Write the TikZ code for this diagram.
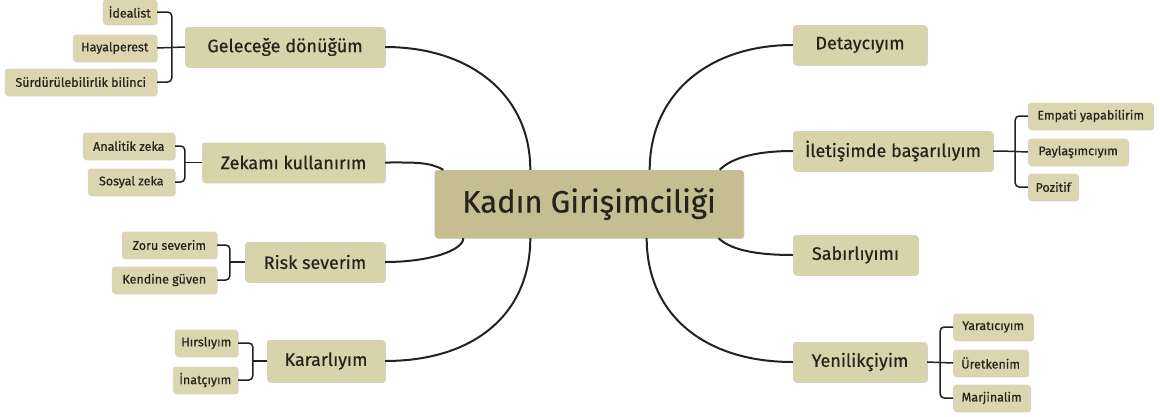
\documentclass[tikz,border=0pt]{standalone}
\usepackage{fontspec}
\setmainfont{Fira Sans}[FakeBold=0.5]
\usetikzlibrary{shadows}
\definecolor{mainfill}{HTML}{D8D3AA}
\definecolor{childfill}{HTML}{DBD6B0}
\definecolor{centerfill}{HTML}{C6BE92}
\definecolor{txt}{HTML}{26231A}
\definecolor{ln}{HTML}{222222}
\tikzset{
  box/.style={fill=#1, rounded corners=3pt, text=txt, inner sep=0pt,
    drop shadow={shadow xshift=0.8pt, shadow yshift=-0.8pt, opacity=0.18, fill=black}},
  centerbox/.style={box=centerfill, font=\fontsize{31}{35}\selectfont, minimum width=309pt, minimum height=68pt},
  mainbox/.style={box=mainfill, font=\fontsize{18}{21}\selectfont, minimum height=40pt},
  childbox/.style={box=childfill, font=\fontsize{12.5}{15}\selectfont, minimum height=27pt},
  conn/.style={draw=ln, line width=2pt},
  brk/.style={draw=ln, line width=1.5pt, rounded corners=4pt},
}
\begin{document}
\begin{tikzpicture}[x=1pt,y=-1pt]
\useasboundingbox (0,0) rectangle (1160,416);
% central
\node[centerbox] (c) at (589,204) {Kadın Girişimciliği};
% main left
\node[mainbox, minimum width=200pt] (gel) at (285,47) {Geleceğe dönüğüm};
\node[mainbox, minimum width=183pt] (zek) at (293.5,162.5) {Zekamı kullanırım};
\node[mainbox, minimum width=140pt] (risk) at (315,262) {Risk severim};
\node[mainbox, minimum width=118pt, minimum height=42pt] (kar) at (326,361) {Kararlıyım};
% main right
\node[mainbox, minimum width=134pt] (det) at (860,45) {Detaycıyım};
\node[mainbox, minimum width=200pt] (ilet) at (893,151) {İletişimde başarılıyım};
\node[mainbox, minimum width=125pt] (sab) at (855.5,255) {Sabırlıyımı};
\node[mainbox, minimum width=134pt] (yen) at (860,362) {Yenilikçiyim};
% children left
\node[childbox, anchor=east, minimum width=54pt, minimum height=25pt] (ide) at (157,12) {İdealist};
\node[childbox, anchor=east, minimum width=84pt] (hay) at (157,48) {Hayalperest};
\node[childbox, anchor=east, minimum width=152pt] (sur) at (157,82) {Sürdürülebilirlik bilinci};
\node[childbox, anchor=east, minimum width=92pt] (ana) at (175,146) {Analitik zeka};
\node[childbox, anchor=east, minimum width=87pt] (sos) at (175,182) {Sosyal zeka};
\node[childbox, anchor=east, minimum width=95pt] (zor) at (217,245) {Zoru severim};
\node[childbox, anchor=east, minimum width=105pt] (ken) at (217,280) {Kendine güven};
\node[childbox, anchor=east, minimum width=63pt] (hir) at (238,343) {Hırslıyım};
\node[childbox, anchor=east, minimum width=65pt] (ina) at (238,380) {İnatçıyım};
% children right
\node[childbox, anchor=west, minimum width=125pt] (emp) at (1028,116) {Empati yapabilirim};
\node[childbox, anchor=west, minimum width=100pt] (pay) at (1028,152) {Paylaşımcıyım};
\node[childbox, anchor=west, minimum width=50pt] (poz) at (1028,187) {Pozitif};
\node[childbox, anchor=west, minimum width=80pt] (yar) at (953,327) {Yaratıcıyım};
\node[childbox, anchor=west, minimum width=75pt] (ure) at (953,363) {Üretkenim};
\node[childbox, anchor=west, minimum width=77pt] (mar) at (953,398) {Marjinalim};
% attach points on the central node
\coordinate (cgel) at ([xshift=96pt]c.north west);
\coordinate (czek) at ([xshift=9pt]c.north west);
\coordinate (crisk) at ([xshift=29pt]c.south west);
\coordinate (ckar) at ([xshift=96pt]c.south west);
\coordinate (cdet) at ([xshift=-94pt]c.north east);
\coordinate (cilet) at ([xshift=-24pt]c.north east);
\coordinate (csab) at ([xshift=-25pt]c.south east);
\coordinate (cyen) at ([xshift=-97pt]c.south east);
% main connectors
\draw[conn] (gel.east) .. controls +(85,0) and +(0,-75) .. (cgel);
\draw[conn] (zek.east) .. controls +(30,0) and +(-14,-8) .. (czek);
\draw[conn] (risk.east) .. controls +(45,0) and +(0,12) .. (crisk);
\draw[conn] (kar.east) .. controls +(90,0) and +(0,75) .. (ckar);
\draw[conn] (det.west) .. controls +(-85,0) and +(0,-75) .. (cdet);
\draw[conn] (ilet.west) .. controls +(-42,0) and +(10,-10) .. (cilet);
\draw[conn] (sab.west) .. controls +(-42,0) and +(10,10) .. (csab);
\draw[conn] (yen.west) .. controls +(-90,0) and +(0,75) .. (cyen);
% bracket coordinates
\coordinate (bgel) at ([xshift=-13pt]gel.west);
\coordinate (bzek) at ([xshift=-17pt]zek.west);
\coordinate (brisk) at ([xshift=-15pt]risk.west);
\coordinate (bkar) at ([xshift=-14pt]kar.west);
\coordinate (bilet) at ([xshift=22pt]ilet.east);
\coordinate (byen) at ([xshift=13pt]yen.east);
% brackets
\draw[brk] (ide.east) -- (ide.east -| bgel) -- (sur.east -| bgel) -- (sur.east);
\draw[conn, line width=1.5pt] (hay.east) -- (gel.west);
\draw[brk] (ana.east) -- (ana.east -| bzek) -- (sos.east -| bzek) -- (sos.east);
\draw[conn, line width=1.5pt] (bzek |- zek.west) -- (zek.west);
\draw[brk] (zor.east) -- (zor.east -| brisk) -- (ken.east -| brisk) -- (ken.east);
\draw[conn, line width=1.5pt] (brisk |- risk.west) -- (risk.west);
\draw[brk] (hir.east) -- (hir.east -| bkar) -- (ina.east -| bkar) -- (ina.east);
\draw[conn, line width=1.5pt] (bkar |- kar.west) -- (kar.west);
\draw[brk] (emp.west) -- (emp.west -| bilet) -- (poz.west -| bilet) -- (poz.west);
\draw[conn, line width=1.5pt] (ilet.east) -- ([xshift=8pt]ilet.east) -- (pay.west);
\draw[brk] (yar.west) -- (yar.west -| byen) -- (mar.west -| byen) -- (mar.west);
\draw[conn, line width=1.5pt] (yen.east) -- (ure.west);
\end{tikzpicture}
\end{document}
